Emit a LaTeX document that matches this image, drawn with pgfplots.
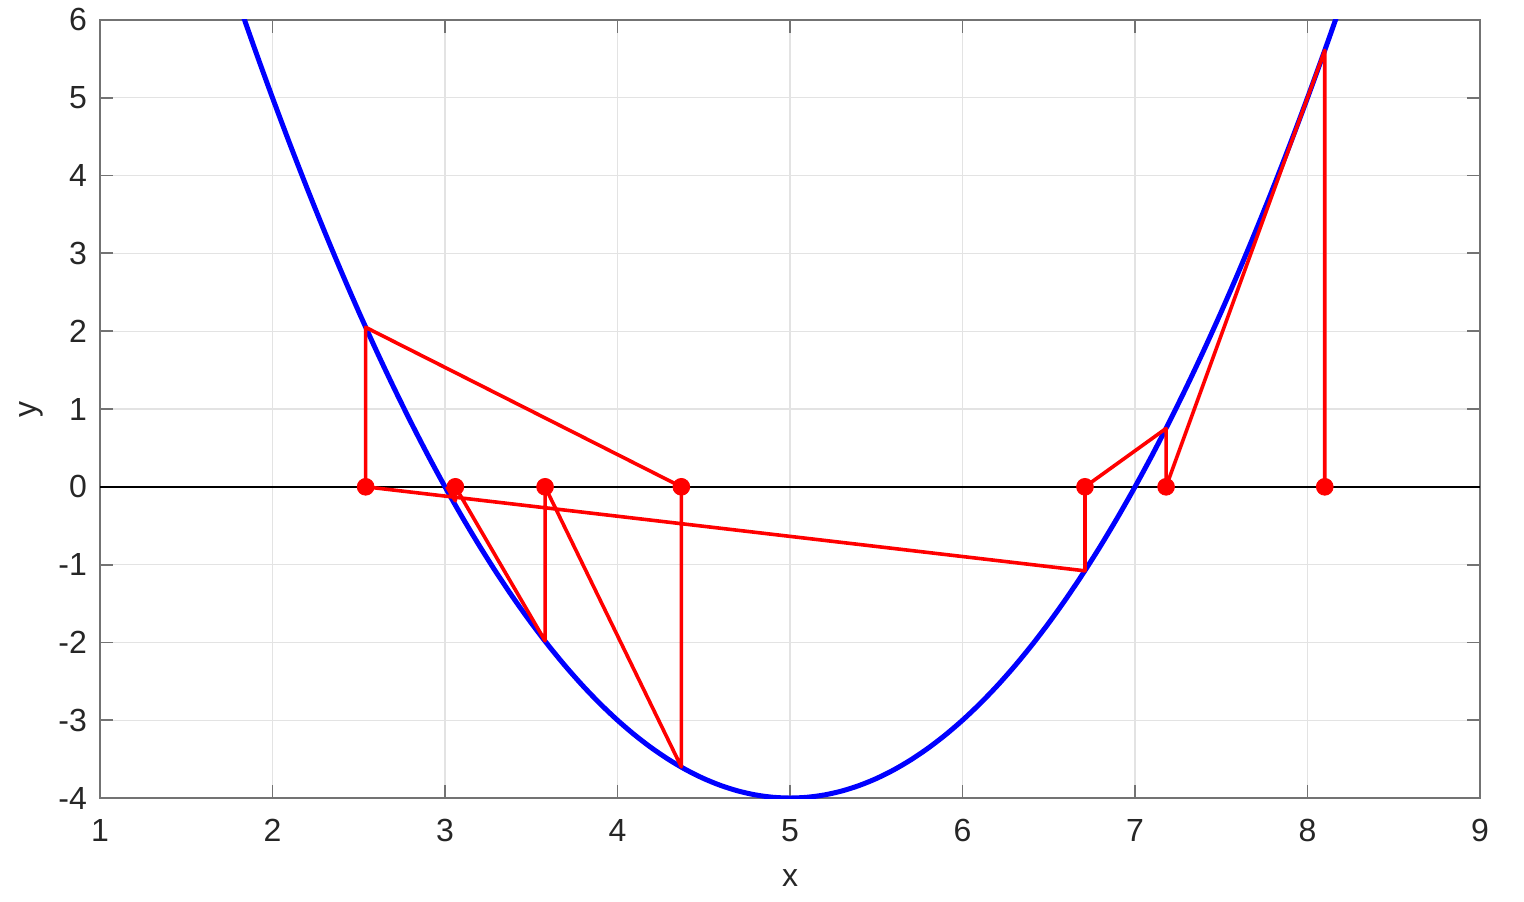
\documentclass[border=0pt]{standalone}
\usepackage{pgfplots}
\pgfplotsset{compat=1.18}
\usepackage{fontspec}
\setmainfont{Liberation Sans}
\definecolor{txt}{gray}{0.15}
\definecolor{axc}{gray}{0.45}
\begin{document}
\begin{tikzpicture}
\begin{axis}[
  scale only axis, width=690pt, height=389pt,
  xmin=1, xmax=9, ymin=-4, ymax=6,
  xtick={1,...,9}, ytick={-4,...,6},
  grid=major, grid style={gray!22, line width=0.6pt},
  axis line style={axc, line width=0.9pt},
  tick style={axc, line width=0.9pt},
  major tick length=6.5pt,
  tick align=inside, xtick pos=both, ytick pos=both,
  every tick label/.style={font=\fontsize{16}{19}\selectfont, text=txt},
  xticklabel style={yshift=-7pt},
  yticklabel style={xshift=-3pt},
  /pgf/number format/assume math mode=true,
  xlabel={x}, ylabel={y},
  label style={font=\fontsize{16}{19}\selectfont, text=txt},
  xlabel style={yshift=-7pt},
  ylabel style={yshift=1pt},
  clip=true,
]
\addplot[black, line width=0.8pt] coordinates {(1,0) (9,0)};
\addplot[blue, line width=2.5pt, smooth] coordinates {
(1.8,6.24)(1.9,5.61)(2.0,5)(2.1,4.41)(2.2,3.84)(2.3,3.29)(2.4,2.76)(2.5,2.25)(2.6,1.76)(2.7,1.29)(2.8,0.84)(2.9,0.41)(3.0,0)(3.1,-0.39)(3.2,-0.76)(3.3,-1.11)(3.4,-1.44)(3.5,-1.75)(3.6,-2.04)(3.7,-2.31)(3.8,-2.56)(3.9,-2.79)(4.0,-3)(4.1,-3.19)(4.2,-3.36)(4.3,-3.51)(4.4,-3.64)(4.5,-3.75)(4.6,-3.84)(4.7,-3.91)(4.8,-3.96)(4.9,-3.99)(5.0,-4)(5.1,-3.99)(5.2,-3.96)(5.3,-3.91)(5.4,-3.84)(5.5,-3.75)(5.6,-3.64)(5.7,-3.51)(5.8,-3.36)(5.9,-3.19)(6.0,-3)(6.1,-2.79)(6.2,-2.56)(6.3,-2.31)(6.4,-2.04)(6.5,-1.75)(6.6,-1.44)(6.7,-1.11)(6.8,-0.76)(6.9,-0.39)(7.0,0)(7.1,0.41)(7.2,0.84)(7.3,1.29)(7.4,1.76)(7.5,2.25)(7.6,2.76)(7.7,3.29)(7.8,3.84)(7.9,4.41)(8.0,5)(8.1,5.61)(8.2,6.24)};
\addplot[red, line width=1.8pt, line join=round] coordinates {
(8.1,0)(8.1,5.61)(7.18,0)(7.18,0.75)(6.71,0)(6.71,-1.08)(2.54,0)(2.54,2.05)(4.37,0)(4.37,-3.6)(3.58,0)(3.58,-1.98)(3.06,0)(3.06,-0.18)(3.01,0)};
\addplot[red, only marks, mark=*, mark size=4.2pt] coordinates {
(8.1,0)(7.18,0)(6.71,0)(2.54,0)(4.37,0)(3.58,0)(3.06,0)};
\end{axis}
\path[use as bounding box] ([shift={(-50pt,-51.5pt)}]current axis.south west) rectangle ([shift={(22pt,10pt)}]current axis.north east);
\end{tikzpicture}
\end{document}
